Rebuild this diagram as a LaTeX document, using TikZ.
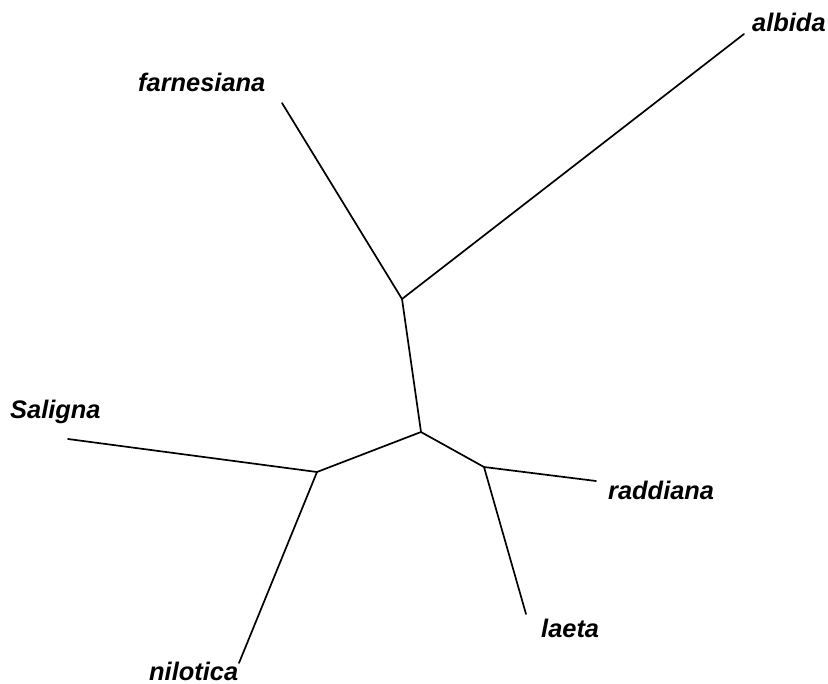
\documentclass[tikz,border=0pt]{standalone}
\usepackage{fontspec}
\setmainfont{Liberation Sans}
\begin{document}
\begin{tikzpicture}[x=1bp,y=-1bp,
  branch/.style={line width=1.7bp, line cap=round, line join=round},
  taxon/.style={inner sep=0pt, anchor=base west, font=\fontsize{25.5}{26}\selectfont\bfseries\itshape}]
\useasboundingbox (0,0) rectangle (828,684);
\coordinate (A) at (402,299);
\coordinate (B) at (421,432);
\coordinate (C) at (317,472);
\coordinate (D) at (484,467);
\coordinate (lfar) at (282,103);
\coordinate (lalb) at (744,34);
\coordinate (lsal) at (68,439);
\coordinate (lnil) at (239,663);
\coordinate (llae) at (526,614);
\coordinate (lrad) at (596,481);
\draw[branch] (lfar) -- (A) -- (lalb);
\draw[branch] (A) -- (B) -- (C);
\draw[branch] (B) -- (D);
\draw[branch] (lsal) -- (C) -- (lnil);
\draw[branch] (lrad) -- (D) -- (llae);
\node[taxon] (tfar) at (138,92) {farnesiana};
\node[taxon] (talb) at (752,32) {albida};
\node[taxon] (tsal) at (10,418) {Saligna};
\node[taxon] (trad) at (608,499) {raddiana};
\node[taxon] (tlae) at (541,637) {laeta};
\node[taxon] (tnil) at (149,680) {nilotica};
\end{tikzpicture}
\end{document}
